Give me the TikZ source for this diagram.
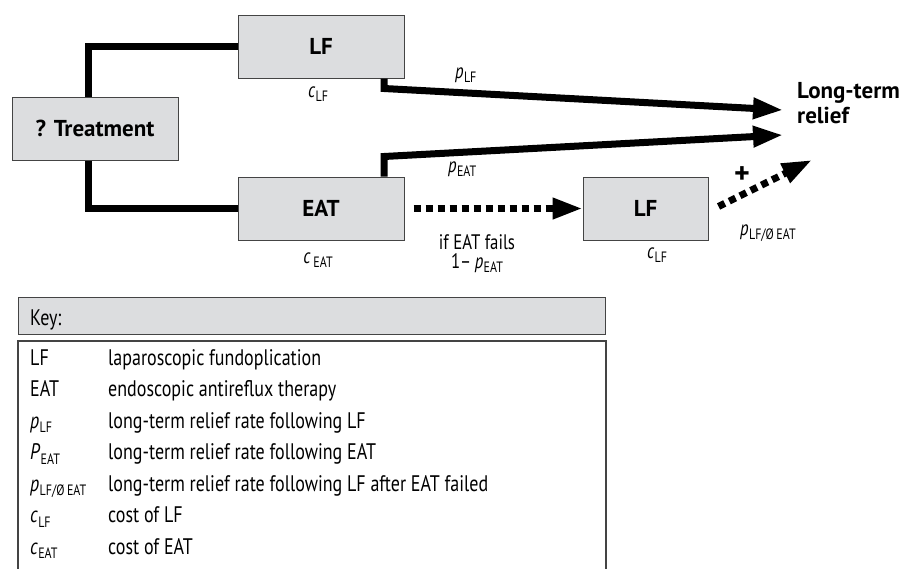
\documentclass[tikz,border=0pt]{standalone}
\usepackage{fontspec}
\setmainfont[FakeStretch=0.8]{PT Sans}
\newfontfamily\bsans{PT Sans}
\usetikzlibrary{arrows.meta}
\definecolor{boxgray}{HTML}{DCDDDF}
\definecolor{edgegray}{HTML}{444444}
\newcommand\vv[2]{\textit{#1}\kern0.3pt\raisebox{-4.5pt}{\fontsize{15}{15}\selectfont #2}}
\begin{document}
\begin{tikzpicture}[x=1pt,y=-1pt,
  box/.style={draw=edgegray,line width=1pt,fill=boxgray,minimum height=63pt,inner sep=0pt,font=\fontsize{23}{25}\selectfont\bsans\bfseries},
  conn/.style={line width=7pt,black},
  tipa/.style={-{Triangle[length=30pt,width=20pt]}},
  dots/.style={line width=7pt,dash pattern=on 7pt off 5pt},
  lbl/.style={font=\fontsize{21}{25}\selectfont,inner sep=0pt,anchor=base west},
  keytxt/.style={font=\fontsize{22.5}{24}\selectfont,inner sep=0pt,anchor=base west}]
\clip (0,0) rectangle (909,568);
\fill[white] (0,0) rectangle (909,568);
% boxes
\node[box,minimum width=166pt] (treat) at (95,128.5) {? Treatment};
\node[box,minimum width=166pt] (lf1) at (321,46.5) {LF};
\node[box,minimum width=166pt] (eat) at (321,208.5) {EAT};
\node[box,minimum width=125pt] (lf2) at (645.5,208.5) {LF};
\node[font=\fontsize{23}{25}\selectfont\bsans\bfseries,align=left,inner sep=0pt,anchor=base west] (relief) at (797,123) {Long-term\\relief};
\coordinate (t1) at (783,110);
\coordinate (t2) at (783,135);
\coordinate (t3) at (812,160);
% connectors
\draw[conn] ([xshift=-7pt]treat.north) |- (lf1.west);
\draw[conn] ([xshift=-7pt]treat.south) |- (eat.west);
\draw[conn,tipa] ([xshift=63pt]lf1.south) -- ++(0,10) -- (t1);
\draw[conn,tipa] ([xshift=63pt]eat.north) -- ++(0,-20) -- (t2);
\draw[dots,tipa,shorten <=9pt] (eat.east) -- (lf2.west);
\draw[dots,tipa] ([xshift=10pt,yshift=2pt]lf2.east) -- (t3);
% labels
\node[lbl] (plf) at (455,78) {\vv{p}{LF}};
\node[lbl] (peat) at (448,172) {\vv{p}{EAT}};
\node[lbl,anchor=base] (clf1) at (318,97) {\vv{c}{LF}};
\node[lbl,anchor=base] (ceat) at (318,263) {\vv{c}{\,EAT}};
\node[lbl,anchor=base] (clf2) at (657,258) {\vv{c}{LF}};
\node[lbl,anchor=base,align=center,font=\fontsize{21}{19}\selectfont] (fails) at (477,268) {if EAT fails\\1–\,\vv{p}{EAT}};
\node[font=\fontsize{30}{30}\selectfont\bsans\bfseries,inner sep=0pt] (plus) at (742,175) {+};
\node[lbl] (plfe) at (740,235) {\vv{p}{LF/Ø\,EAT}};
% key
\node[draw=edgegray,line width=1.2pt,fill=boxgray,minimum width=587pt,minimum height=37pt,inner sep=0pt,anchor=north west] (keyhead) at (18,297) {};
\node[keytxt] (keylab) at (30,325) {Key:};
\draw[edgegray,line width=1.2pt] (18,341) rectangle (606,590);
\foreach \a/\b [count=\i] in {
  LF/laparoscopic fundoplication,
  EAT/endoscopic antireflux therapy,
  \vv{p}{LF}/long-term relief rate following LF,
  \vv{P}{EAT}/long-term relief rate following EAT,
  \vv{p}{LF/Ø\,EAT}/long-term relief rate following LF after EAT failed,
  \vv{c}{LF}/cost of LF,
  \vv{c}{EAT}/cost of EAT}{
  \node[keytxt] (ka\i) at (30,{365+31.5*(\i-1)}) {\a};
  \node[keytxt] (kb\i) at (108,{365+31.5*(\i-1)}) {\b};
}
\end{tikzpicture}
\end{document}
